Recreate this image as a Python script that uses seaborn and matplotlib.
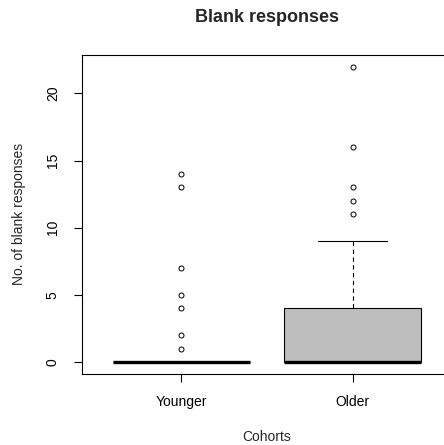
import matplotlib
matplotlib.use("Agg")
import matplotlib.pyplot as plt
import seaborn as sns
import pandas as pd

# Data
cohorts = ["Younger", "Older"]
younger_values = [0] * 33 + [1, 2, 4, 5, 7, 13, 14]
older_values = [0] * 22 + [1, 1, 2, 2, 3, 3, 4, 4, 4, 5, 6, 7, 8, 9] + [11, 12, 13, 16, 22]
box_colors = ["white", "#BEBEBE"]
y_ticks = [0, 5, 10, 15, 20]

df = pd.DataFrame({
    "Cohort": ["Younger"] * len(younger_values) + ["Older"] * len(older_values),
    "Blank": younger_values + older_values,
})

sns.set_style("white")
plt.rcParams["font.family"] = ["Liberation Sans", "DejaVu Sans"]

fig = plt.figure(figsize=(4.44, 4.45), dpi=100)
ax = fig.add_axes([82 / 444, 1 - 374 / 445, 370 / 444, (374 - 54.7) / 445])

sns.boxplot(
    data=df, x="Cohort", y="Blank", hue="Cohort", order=cohorts,
    palette=dict(zip(cohorts, box_colors)), legend=False,
    width=0.8, whis=1.5, linecolor="black", linewidth=0.8, ax=ax,
    medianprops={"color": "black", "linewidth": 2.4},
    whiskerprops={"color": "black", "linestyle": (0, (4, 3)), "linewidth": 0.8},
    capprops={"color": "black", "linewidth": 0.8},
    flierprops={"marker": "o", "markerfacecolor": "none", "markeredgecolor": "black",
                "markersize": 3.6, "markeredgewidth": 0.7},
)

ax.set_xlim(-0.58, 1.58)
ax.set_ylim(-0.88, 22.88)
ax.set_yticks(y_ticks)
ax.set_yticklabels([str(v) for v in y_ticks], rotation=90, va="center", fontsize=10)
ax.set_xticks([0, 1])
ax.set_xticklabels(cohorts, fontsize=10)
ax.tick_params(axis="y", direction="out", length=6, width=0.8, pad=10, left=True, colors="black")
ax.tick_params(axis="x", direction="out", length=6, width=0.8, pad=9, bottom=True, colors="black")
for s in ax.spines.values():
    s.set_visible(True)
    s.set_color("black")
    s.set_linewidth(0.8)

ax.set_xlabel("Cohorts", fontsize=10, labelpad=15)
ax.set_ylabel("No. of blank responses", fontsize=10, labelpad=14)
fig.text(267 / 444, 1 - 18 / 445, "Blank responses", ha="center", va="center",
         fontsize=13, fontweight="bold")

fig.savefig("out.png", dpi=100, facecolor="white")
